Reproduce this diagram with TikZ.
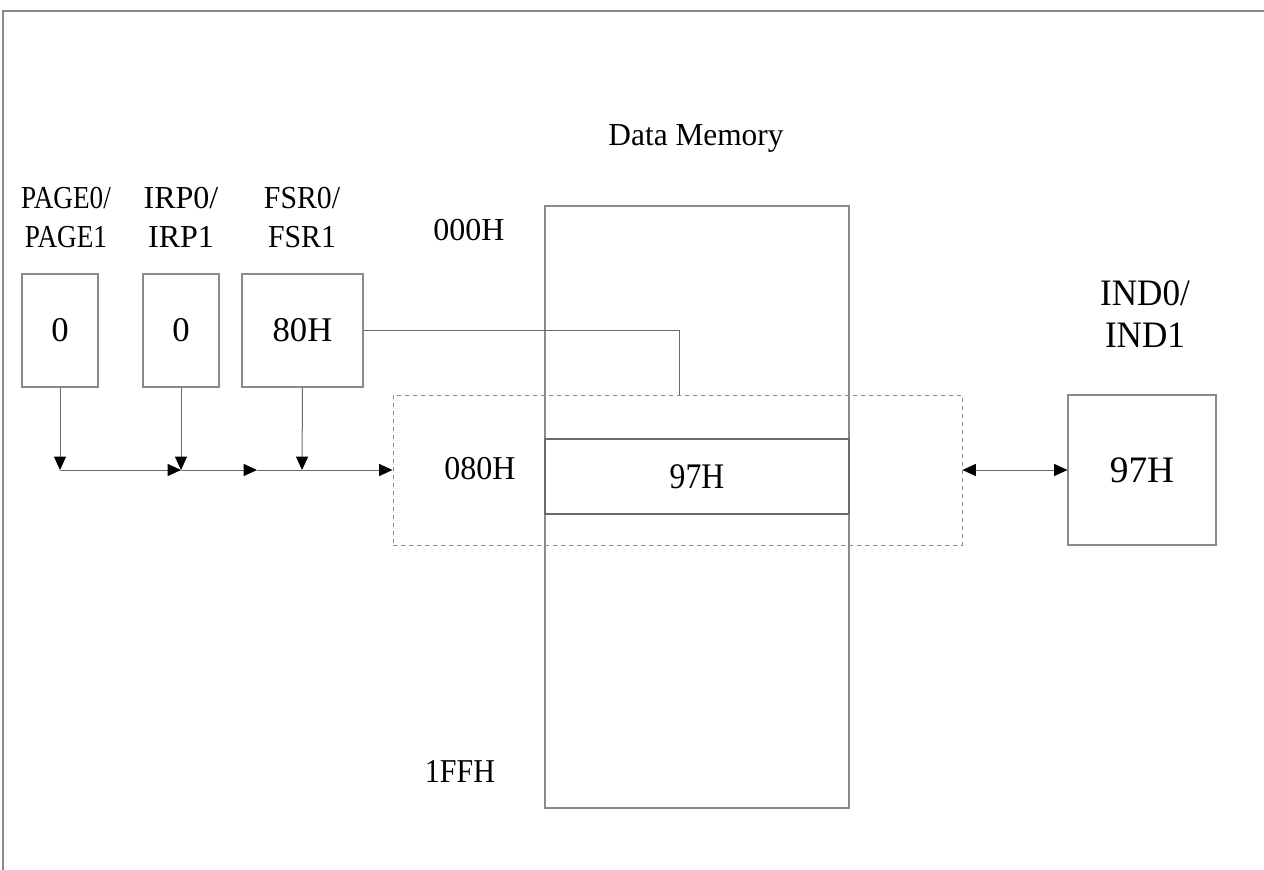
\documentclass[tikz,border=0pt]{standalone}
\usepackage{fontspec}
\usepackage{graphicx}
\setmainfont{Liberation Serif}
\usetikzlibrary{arrows.meta}
\definecolor{boxgray}{HTML}{8A8A8A}
\definecolor{linegray}{HTML}{6A6A6A}
\newcommand{\sx}[2]{\scalebox{#1}[1]{#2}}
\newcommand{\twol}[2]{\begin{tabular}{@{}c@{}}#1\\#2\end{tabular}}
\begin{document}
\begin{tikzpicture}[x=0.75pt,y=-0.75pt,
  regbox/.style={draw=boxgray,line width=0.8pt,minimum width=#1*0.75pt,minimum height=113*0.75pt,inner sep=0pt,font=\fontsize{26}{28}\selectfont},
  lbl/.style={font=\fontsize{24}{29}\selectfont,align=center,inner sep=0pt},
  indlbl/.style={font=\fontsize{28}{32}\selectfont,align=center,inner sep=0pt},
  conn/.style={draw=linegray,line width=0.75pt},
  tip/.tip={Triangle[length=10pt,width=9pt,color=black]},
  arr/.style={conn,-tip},
  darr/.style={conn,tip-tip},
  frame/.style={draw=boxgray,line width=1.4pt}]
\useasboundingbox (0,0) rectangle (1264,870);
% frame
\draw[frame] (3,870) -- (3,11) -- (1264,11);
% register boxes
\node[regbox=76] (page) at (60,330.5) {0};
\node[regbox=76] (irp) at (181,330.5) {0};
\node[regbox=121] (fsr) at (302.5,330.5) {80H};
\node[lbl] (pagel) at (66,220) {\sx{0.85}{\twol{PAGE0/}{PAGE1}}};
\node[lbl] (irpl) at (181,220) {\sx{1.0}{\twol{IRP0/}{IRP1}}};
\node[lbl] (fsrl) at (302,220) {\sx{0.93}{\twol{FSR0/}{FSR1}}};
% data memory
\node[draw=boxgray,line width=0.8pt,minimum width=304*0.75pt,minimum height=602*0.75pt,inner sep=0pt] (mem) at (697,507) {};
\node[font=\fontsize{24}{28}\selectfont,inner sep=0pt] (memt) at (696,138) {\sx{0.98}{Data Memory}};
\node[draw=linegray,line width=0.8pt,minimum width=304*0.75pt,minimum height=75*0.75pt,inner sep=0pt,font=\fontsize{27}{28}\selectfont] (row) at (697,476.5) {\sx{0.88}{97H}};
% dashed window
\node[draw=boxgray,dashed,line width=0.75pt,minimum width=569*0.75pt,minimum height=150*0.75pt,inner sep=0pt] (win) at (677.5,470) {};
% addresses
\node[font=\fontsize{24}{28}\selectfont,inner sep=0pt] (a000) at (469,230) {000H};
\node[font=\fontsize{25}{28}\selectfont,inner sep=0pt] (a080) at (480,469) {\sx{0.96}{080H}};
\node[font=\fontsize{25}{28}\selectfont,inner sep=0pt] (a1ff) at (460,771) {\sx{0.9}{1FFH}};
% IND
\node[draw=boxgray,line width=0.8pt,minimum width=148*0.75pt,minimum height=150*0.75pt,inner sep=0pt,font=\fontsize{28}{30}\selectfont] (ind) at (1142,470) {97H};
\node[indlbl] (indl) at (1145,318) {\sx{0.94}{\twol{IND0/}{IND1}}};
% connectors
\coordinate (j1) at (60,470);
\coordinate (j2) at (181,470);
\coordinate (j3) at (257,470);
\coordinate (fsrc) at (679,330.5);
\draw[arr] (page.south) -- (j1);
\draw[arr] (irp.south) -- (j2);
\draw[arr] (fsr.south) -- (302,470);
\draw[arr] (j1) -- (j2);
\draw[arr] (j2) -- (j3);
\draw[arr] (j3) -- (win.west);
\draw[conn] (fsr.east) -- (fsrc) -- (fsrc |- win.north);
\draw[darr] (win.east) -- (ind.west);
\end{tikzpicture}
\end{document}
